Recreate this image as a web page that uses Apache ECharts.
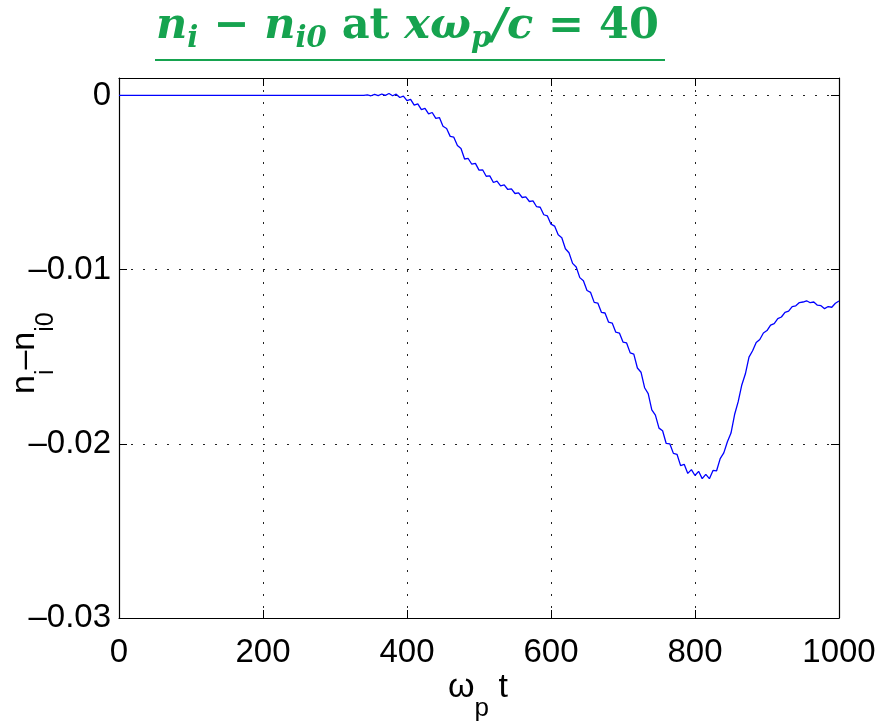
<!DOCTYPE html>
<html>
<head>
<meta charset="utf-8">
<script src="https://cdn.jsdelivr.net/npm/echarts@6/dist/echarts.min.js"></script>
<style>html,body{margin:0;padding:0;background:#fff}#c{width:884px;height:727px}</style>
</head>
<body>
<div id="c"></div>
<script>
const xTicks = [0, 200, 400, 600, 800, 1000];
const yTicks = [-0.03, -0.02, -0.01, 0];
const tValues = [0, 340, 345, 350, 355, 360, 365, 370, 375, 380, 385, 390, 395,
  400, 405, 410, 415, 420, 425, 430, 435, 440, 445, 450, 455, 460, 465, 470, 475,
  480, 485, 490, 495, 500, 505, 510, 515, 520, 525, 530, 535, 540, 545, 550, 555,
  560, 565, 570, 575, 580, 585, 590, 595, 600, 605, 610, 615, 620, 625, 630, 635,
  640, 645, 650, 655, 660, 665, 670, 675, 680, 685, 690, 695, 700, 705, 710, 715,
  720, 725, 730, 735, 740, 745, 750, 755, 760, 765, 770, 775, 780, 785, 790, 795,
  800, 805, 810, 815, 820, 825, 830, 835, 840, 845, 850, 855, 860, 865, 870, 875,
  880, 885, 890, 895, 900, 905, 910, 915, 920, 925, 930, 935, 940, 945, 950, 955,
  960, 965, 970, 975, 980, 985, 990, 995, 1000];
const niValues = [0, 0, 0.00003, -0.00002, 0.00006, -0.00001, 0.00008, 0.00000, 0.00011, -0.00002, 0.00007, -0.00012, -0.00004,
  -0.00030, -0.00023, -0.00056, -0.00049, -0.00082, -0.00074, -0.00106, -0.00098, -0.00132, -0.00127, -0.00177, -0.00190, -0.00235, -0.00240, -0.00288, -0.00305,
  -0.00365, -0.00362, -0.00395, -0.00390, -0.00429, -0.00427, -0.00464, -0.00462, -0.00500, -0.00492, -0.00519, -0.00514, -0.00540, -0.00536, -0.00563, -0.00559,
  -0.00586, -0.00582, -0.00609, -0.00605, -0.00639, -0.00642, -0.00685, -0.00692, -0.00739, -0.00750, -0.00800, -0.00817, -0.00880, -0.00903, -0.00964, -0.00985,
  -0.01046, -0.01064, -0.01120, -0.01131, -0.01188, -0.01192, -0.01245, -0.01249, -0.01302, -0.01307, -0.01359, -0.01364, -0.01416, -0.01421, -0.01478, -0.01485,
  -0.01565, -0.01589, -0.01678, -0.01712, -0.01805, -0.01835, -0.01910, -0.01925, -0.01998, -0.02000, -0.02055, -0.02060, -0.02125, -0.02118, -0.02170, -0.02148,
  -0.02182, -0.02158, -0.02200, -0.02175, -0.02200, -0.02153, -0.02155, -0.02085, -0.02052, -0.01988, -0.01938, -0.01832, -0.01758, -0.01662, -0.01598, -0.01502,
  -0.01466, -0.01418, -0.01401, -0.01364, -0.01350, -0.01319, -0.01310, -0.01281, -0.01272, -0.01245, -0.01238, -0.01212, -0.01208, -0.01189, -0.01186, -0.01179,
  -0.01190, -0.01186, -0.01204, -0.01207, -0.01224, -0.01212, -0.01216, -0.01193, -0.01180];

const seriesData = tValues.map((t, i) => [t, niValues[i]]);
const tickFont = {fontFamily: 'Liberation Sans, Arial, sans-serif', fontSize: 33, color: '#000'};
const fmtY = v => {
  const hit = yTicks.find(y => Math.abs(y - v) < 1e-9);
  if (hit === undefined) return '';
  return hit === 0 ? '0' : '\u2013' + Math.abs(hit).toFixed(2);
};
const fmtX = v => String(Math.round(v));
const green = '#16a34f';
const serif = '"DejaVu Serif", "Liberation Serif", serif';
const gridDots = {color: '#222', type: [2, 10], width: 1};

const chart = echarts.init(document.getElementById('c'), null, {renderer: 'canvas'});
chart.setOption({
  animation: false,
  backgroundColor: '#fff',
  grid: {left: 119, right: 45, top: 78, bottom: 109, containLabel: false},
  xAxis: [{
    type: 'value', min: xTicks[0], max: xTicks[xTicks.length - 1], interval: 200,
    position: 'bottom',
    axisLine: {show: true, onZero: false, lineStyle: {color: '#000', width: 1.2}},
    axisTick: {show: true, inside: true, length: 8, lineStyle: {color: '#000'}},
    axisLabel: Object.assign({margin: 18, formatter: fmtX}, tickFont),
    splitLine: {show: true, lineStyle: gridDots}
  }, {
    type: 'value', min: xTicks[0], max: xTicks[xTicks.length - 1], interval: 200,
    position: 'top',
    axisLine: {show: true, onZero: false, lineStyle: {color: '#000', width: 1.2}},
    axisTick: {show: true, inside: true, length: 8, lineStyle: {color: '#000'}},
    axisLabel: {show: false}, splitLine: {show: false}
  }],
  yAxis: [{
    type: 'value', min: -0.03, max: 0.001, interval: 0.01,
    position: 'left',
    axisLine: {show: true, onZero: false, lineStyle: {color: '#000', width: 1.2}},
    axisTick: {show: true, inside: true, length: 8, lineStyle: {color: '#000'}},
    axisLabel: Object.assign({margin: 8, formatter: fmtY, showMaxLabel: false}, tickFont),
    splitLine: {show: true, lineStyle: gridDots}
  }, {
    type: 'value', min: -0.03, max: 0.001, interval: 0.01,
    position: 'right',
    axisLine: {show: true, onZero: false, lineStyle: {color: '#000', width: 1.2}},
    axisTick: {show: true, inside: true, length: 8, lineStyle: {color: '#000'}},
    axisLabel: {show: false}, splitLine: {show: false}
  }],
  series: [{
    type: 'line', data: seriesData, showSymbol: false, symbol: 'none',
    xAxisIndex: 0, yAxisIndex: 0,
    lineStyle: {color: '#0000ff', width: 1.3}
  }],
  graphic: [
    {
      type: 'text', left: 156, top: 5, z: 10,
      style: {
        text: '{m|n}{s|i}{o| \u2212 }{m|n}{s|i0}{u| at }{m|x\u03c9}{s|p}{m|/c}{o| = }{u|40}',
        fill: green,
        rich: {
          m: {fontFamily: serif, fontStyle: 'italic', fontWeight: 'bold', fontSize: 43, fill: green, verticalAlign: 'top', lineHeight: 49},
          s: {fontFamily: serif, fontStyle: 'italic', fontWeight: 'bold', fontSize: 29, fill: green, verticalAlign: 'bottom', lineHeight: 32},
          o: {fontFamily: serif, fontWeight: 'bold', fontSize: 43, fill: green, verticalAlign: 'top', lineHeight: 49},
          u: {fontFamily: serif, fontWeight: 'bold', fontSize: 43, fill: green, verticalAlign: 'top', lineHeight: 49}
        }
      }
    },
    {
      type: 'line', z: 10,
      shape: {x1: 155, y1: 60, x2: 665, y2: 60},
      style: {stroke: green, lineWidth: 2.2}
    },
    {
      type: 'text', left: 448, top: 671, z: 10,
      style: {
        text: '{m|\u03c9}{s|p}{m| t}',
        rich: {
          m: {fontFamily: 'Liberation Sans', fontSize: 34, fill: '#000', verticalAlign: 'top', lineHeight: 51},
          s: {fontFamily: 'Liberation Sans', fontSize: 26, fill: '#000', verticalAlign: 'bottom', lineHeight: 30}
        }
      }
    },
    {
      type: 'text', x: 8, y: 394, rotation: Math.PI / 2, z: 10,
      style: {
        text: '{m|n}{s|i}{m|\u2013n}{s|i0}',
        rich: {
          m: {fontFamily: 'Liberation Sans', fontSize: 34, fill: '#000', verticalAlign: 'top', lineHeight: 51},
          s: {fontFamily: 'Liberation Sans', fontSize: 25, fill: '#000', verticalAlign: 'bottom', lineHeight: 30}
        }
      }
    }
  ]
});
</script>
</body>
</html>
